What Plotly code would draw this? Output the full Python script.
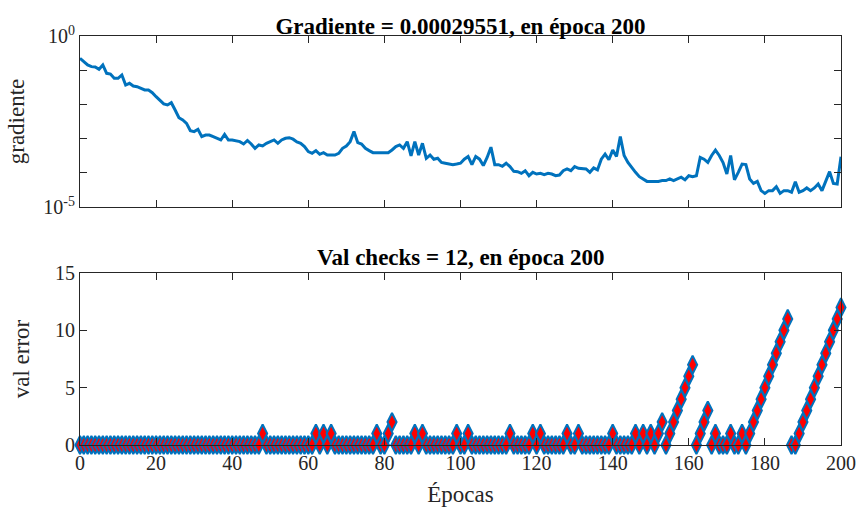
import plotly.graph_objects as go

# Training record: gradient magnitude and validation checks per epoch (0..200)
epochs = list(range(201))

gradient = [
    0.222, 0.178, 0.142, 0.127, 0.125, 0.106, 0.142, 0.081, 0.077, 0.0578,
    0.0578, 0.0724, 0.0369, 0.0413, 0.0345, 0.033, 0.0295, 0.0264, 0.0264, 0.022,
    0.0168, 0.0134, 0.0103, 0.0096, 0.0112, 0.00686, 0.00409, 0.0035, 0.00279, 0.00171,
    0.0016, 0.00187, 0.00114, 0.00127, 0.00127, 0.00114, 0.00102, 0.00091, 0.00133, 0.00091,
    0.00091, 0.000851, 0.000813, 0.000695, 0.00088, 0.000695, 0.000519, 0.00065, 0.000608, 0.000727,
    0.000813, 0.00091, 0.000727, 0.00091, 0.00102, 0.00106, 0.00096, 0.0008, 0.000727, 0.000581,
    0.000415, 0.000371, 0.000444, 0.000347, 0.000388, 0.000331, 0.000331, 0.000331, 0.000371, 0.000519,
    0.000608, 0.000813, 0.0016, 0.00076, 0.000695, 0.000519, 0.000444, 0.000388, 0.000388, 0.000388,
    0.000371, 0.000388, 0.000464, 0.000581, 0.00065, 0.000519, 0.000813, 0.00031, 0.000813, 0.000331,
    0.000727, 0.000265, 0.000331, 0.000248, 0.000265, 0.0002, 0.00019, 0.00018, 0.000173, 0.00018,
    0.00019, 0.00025, 0.0003, 0.000173, 0.0003, 0.00025, 0.000162, 0.00028, 0.00056, 0.000173,
    0.000173, 0.000155, 0.00019, 0.000151, 0.00011, 0.000108, 0.000096, 0.000115, 0.000082, 0.000103,
    0.000092, 0.000096, 0.000088, 0.000096, 0.000092, 0.000082, 0.000086, 0.000115, 0.000129, 0.000115,
    0.000151, 0.000135, 0.000135, 0.000129, 0.000103, 0.000138, 0.000121, 0.00025, 0.00035, 0.00024,
    0.00046, 0.0003, 0.00114, 0.00032, 0.0002, 0.000138, 0.000103, 0.000077, 0.000066, 0.000056,
    0.000056, 0.000055, 0.000056, 0.000059, 0.000059, 0.000066, 0.000059, 0.000066, 0.000074, 0.000062,
    0.000082, 0.000077, 0.000082, 0.00028, 0.00025, 0.0002, 0.00032, 0.00046, 0.00032, 0.0002,
    0.000092, 0.00032, 0.000062, 0.000103, 0.00018, 0.000173, 0.000066, 0.000049, 0.000056, 0.00003,
    0.000025, 0.00003, 0.00003, 0.000039, 0.000025, 0.00003, 0.00003, 0.000027, 0.000055, 0.000027,
    0.00003, 0.000036, 0.00003, 0.000036, 0.000047, 0.00003, 0.000059, 0.000108, 0.000049, 0.000047,
    0.00029551,
]

val_checks = [
    0, 0, 0, 0, 0, 0, 0, 0, 0, 0,
    0, 0, 0, 0, 0, 0, 0, 0, 0, 0,
    0, 0, 0, 0, 0, 0, 0, 0, 0, 0,
    0, 0, 0, 0, 0, 0, 0, 0, 0, 0,
    0, 0, 0, 0, 0, 0, 0, 0, 1, 0,
    0, 0, 0, 0, 0, 0, 0, 0, 0, 0,
    0, 0, 1, 0, 1, 0, 1, 0, 0, 0,
    0, 0, 0, 0, 0, 0, 0, 0, 1, 0,
    0, 1, 2, 0, 0, 0, 0, 0, 1, 0,
    1, 0, 0, 0, 0, 0, 0, 0, 0, 1,
    0, 0, 1, 0, 0, 0, 0, 0, 0, 0,
    0, 0, 0, 1, 0, 0, 0, 0, 0, 1,
    0, 1, 0, 0, 0, 0, 0, 0, 1, 0,
    0, 1, 0, 0, 0, 0, 0, 0, 0, 0,
    1, 0, 0, 0, 0, 0, 1, 0, 1, 0,
    1, 0, 1, 2, 0, 1, 2, 3, 4, 5,
    6, 7, 0, 1, 2, 3, 0, 1, 0, 0,
    0, 1, 0, 0, 1, 0, 1, 2, 3, 4,
    5, 6, 7, 8, 9, 10, 11, 0, 0, 1,
    2, 3, 4, 5, 6, 7, 8, 9, 10, 11,
    12,
]

x_ticks = [0, 20, 40, 60, 80, 100, 120, 140, 160, 180, 200]
grad_label_ticks = [1, 1e-5]
grad_label_text = ["10<sup>0</sup>", "10<sup>-5</sup>"]
grad_decade_ticks = [1e-1, 1e-2, 1e-3, 1e-4]
val_ticks = [0, 5, 10, 15]

BLUE = "#0072BD"
AXIS = "#262626"
FONT = "Liberation Serif"

fig = go.Figure()

fig.add_trace(go.Scatter(
    x=epochs, y=gradient, mode="lines",
    line=dict(color=BLUE, width=3),
    xaxis="x", yaxis="y", showlegend=False,
))

fig.add_trace(go.Scatter(
    x=epochs, y=val_checks, mode="markers",
    marker=dict(symbol="diamond-tall", size=13, color="red",
                line=dict(color=BLUE, width=2)),
    xaxis="x2", yaxis="y2", showlegend=False, cliponaxis=False,
))

common_axis = dict(
    showline=True, mirror="ticks", linecolor=AXIS, linewidth=1,
    ticks="inside", ticklen=7, tickcolor=AXIS, tickwidth=1,
    showgrid=False, zeroline=False, automargin=False,
    tickfont=dict(family=FONT, size=20, color=AXIS),
)

fig.update_layout(
    width=858, height=512,
    margin=dict(l=80, r=17, t=36, b=67),
    paper_bgcolor="white", plot_bgcolor="white",
    font=dict(family=FONT, color=AXIS),
    title=dict(text="<b>Gradiente = 0.00029551, en época 200</b>",
               x=0.5, xref="paper", xanchor="center",
               y=1, yref="paper", yanchor="bottom", pad=dict(b=2),
               font=dict(family=FONT, size=23, color="black")),
    xaxis=dict(domain=[0, 1], anchor="y", range=[0, 200],
               tickvals=x_ticks, showticklabels=False, **common_axis),
    yaxis=dict(domain=[0.582, 1], anchor="x", type="log", range=[-5, 0],
               tickvals=grad_label_ticks, ticktext=grad_label_text,
               minor=dict(tickvals=grad_decade_ticks, ticks="inside", ticklen=7,
                          tickcolor=AXIS, tickwidth=1, showgrid=False),
               title=dict(text="gradiente", font=dict(family=FONT, size=23, color=AXIS),
                          standoff=12),
               **common_axis),
    xaxis2=dict(domain=[0, 1], anchor="y2", range=[0, 200],
                tickvals=x_ticks,
                title=dict(text="Épocas", font=dict(family=FONT, size=23, color=AXIS),
                           standoff=12),
                **common_axis),
    yaxis2=dict(domain=[0, 0.4205], anchor="x2", range=[0, 15],
                tickvals=val_ticks,
                title=dict(text="val error", font=dict(family=FONT, size=23, color=AXIS),
                           standoff=18),
                **common_axis),
    annotations=[
        dict(text="<b>Val checks = 12, en época 200</b>",
             x=0.5, y=0.4205, xref="paper", yref="paper", xanchor="center", yanchor="bottom",
             yshift=1, showarrow=False, font=dict(family=FONT, size=23, color="black")),
    ],
)

fig.write_html("out.html")
